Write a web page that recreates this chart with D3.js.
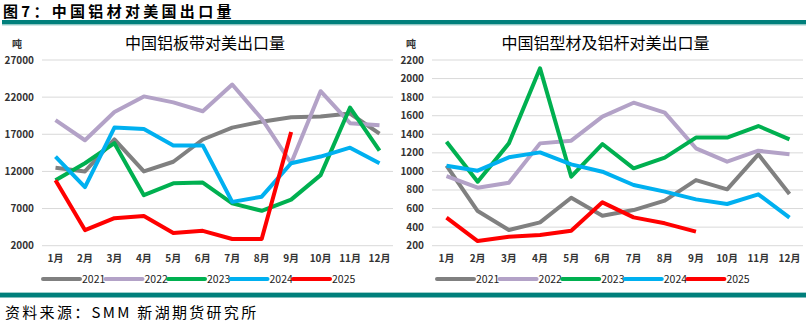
<!DOCTYPE html>
<html>
<head>
<meta charset="utf-8">
<script src="https://cdn.jsdelivr.net/npm/d3@7"></script>
<style>
  html, body { margin: 0; padding: 0; background: #fff; }
  svg { display: block; }
</style>
</head>
<body>
<svg id="chart" width="806" height="324"></svg>
<script>
// Months on the x axis
const months = ['1月', '2月', '3月', '4月', '5月', '6月', '7月', '8月', '9月', '10月', '11月', '12月'];
const years = ['2021', '2022', '2023', '2024', '2025'];
const yearColors = ['#808080', '#b3a2c7', '#00b050', '#00b0f0', '#ff0000'];

// Aluminium sheet & strip exports to US (tonnes)
const sheet2021 = [12500, 12000, 16300, 12000, 13300, 16300, 17900, 18700, 19300, 19400, 19800, 17100];
const sheet2022 = [18900, 16200, 20000, 22100, 21300, 20100, 23700, 19100, 13100, 22800, 18500, 18200];
const sheet2023 = [10800, 13100, 15800, 8800, 10400, 10500, 7700, 6700, 8200, 11500, 20600, 14800];
const sheet2024 = [14000, 9900, 17900, 17700, 15500, 15500, 7900, 8600, 13100, 14000, 15200, 13100];
const sheet2025 = [10800, 4100, 5700, 6000, 3700, 4000, 2900, 2900, 17300];
const sheetTicks = [2000, 7000, 12000, 17000, 22000, 27000];

// Aluminium profiles & rod exports to US (tonnes)
const profile2021 = [1062, 573, 369, 451, 717, 523, 584, 685, 907, 807, 1184, 757];
const profile2022 = [950, 825, 879, 1302, 1331, 1590, 1740, 1633, 1249, 1105, 1223, 1184];
const profile2023 = [1320, 889, 1302, 2110, 943, 1295, 1033, 1148, 1364, 1364, 1489, 1346];
const profile2024 = [1062, 1008, 1152, 1205, 1076, 997, 854, 782, 699, 649, 753, 502];
const profile2025 = [502, 250, 297, 315, 362, 667, 505, 441, 351];
const profileTicks = [200, 400, 600, 800, 1000, 1200, 1400, 1600, 1800, 2000, 2200];

const svg = d3.select('#chart');
const FONT = '"Noto Sans CJK SC", "Noto Sans", sans-serif';

// header title and teal rules
svg.append('text')
  .attr('x', 3).attr('y', 17)
  .attr('font-family', FONT).attr('font-weight', 700)
  .attr('font-size', 15).attr('letter-spacing', 3.3)
  .attr('fill', '#000')
  .text('图7：中国铝材对美国出口量');

svg.append('rect').attr('x', 2).attr('y', 20).attr('width', 804).attr('height', 4.5).attr('fill', '#007f7b');
svg.append('rect').attr('x', 2).attr('y', 24.5).attr('width', 804).attr('height', 1).attr('fill', '#9fcfcc');
svg.append('rect').attr('x', 0).attr('y', 292).attr('width', 806).attr('height', 1).attr('fill', '#9fcfcc');
svg.append('rect').attr('x', 0).attr('y', 293).attr('width', 806).attr('height', 4.5).attr('fill', '#007f7b');

svg.append('text')
  .attr('x', 5).attr('y', 318)
  .attr('font-family', FONT).attr('font-size', 15)
  .attr('letter-spacing', 2.3)
  .attr('fill', '#000')
  .text('资料来源：SMM 新湖期货研究所');

function drawPanel(cfg) {
  const g = svg.append('g');
  const x = d3.scalePoint().domain(months).range([cfg.x0, cfg.x1]);
  const y = d3.scaleLinear().domain(cfg.domain).range([cfg.yBottom, cfg.yTop]);

  // horizontal gridlines
  g.selectAll('.grid')
    .data(cfg.ticks)
    .enter().append('line')
    .attr('x1', cfg.gx0).attr('x2', cfg.gx1)
    .attr('y1', d => y(d)).attr('y2', d => y(d))
    .attr('stroke', '#d9d9d9').attr('stroke-width', 1);

  // y tick labels
  g.selectAll('.ytick')
    .data(cfg.ticks)
    .enter().append('text')
    .attr('x', cfg.gx0 - 8).attr('y', d => y(d) + 3.5)
    .attr('text-anchor', 'end')
    .attr('font-family', FONT).attr('font-size', 10).attr('font-weight', 700)
    .attr('fill', '#333')
    .text(d => d);

  // x tick labels
  g.selectAll('.xtick')
    .data(months)
    .enter().append('text')
    .attr('x', d => x(d)).attr('y', 262)
    .attr('text-anchor', 'middle')
    .attr('font-family', FONT).attr('font-size', 10).attr('font-weight', 700)
    .attr('fill', '#333')
    .text(d => d);

  // unit and panel title
  g.append('text')
    .attr('x', cfg.unitX).attr('y', 48)
    .attr('font-family', FONT).attr('font-size', 10).attr('font-weight', 700)
    .attr('fill', '#333').text('吨');

  g.append('text')
    .attr('x', cfg.titleX).attr('y', 49)
    .attr('text-anchor', 'middle')
    .attr('font-family', FONT).attr('font-size', 16)
    .attr('fill', '#000').text(cfg.title);

  const line = d3.line()
    .x((d, i) => x(months[i]))
    .y(d => y(d))
    .curve(d3.curveLinear);

  cfg.series.forEach((vals, i) => {
    g.append('path')
      .datum(vals)
      .attr('d', line)
      .attr('fill', 'none')
      .attr('stroke', yearColors[i])
      .attr('stroke-width', 4)
      .attr('stroke-linejoin', 'round');
  });

  // legend
  const leg = g.append('g');
  years.forEach((yr, i) => {
    const lx = cfg.legendX + i * cfg.legendStep;
    leg.append('line')
      .attr('x1', lx).attr('x2', lx + 37)
      .attr('y1', 279).attr('y2', 279)
      .attr('stroke', yearColors[i]).attr('stroke-width', 4)
      .attr('stroke-linecap', 'round');
    leg.append('text')
      .attr('x', lx + 39).attr('y', 283)
      .attr('font-family', FONT).attr('font-size', 10.5)
      .attr('fill', '#222').text(yr);
  });
}

drawPanel({
  title: '中国铝板带对美出口量',
  titleX: 205, unitX: 12,
  x0: 55.5, x1: 379.5, gx0: 42, gx1: 393,
  yTop: 60, yBottom: 245.7, domain: [2000, 27000],
  ticks: sheetTicks,
  series: [sheet2021, sheet2022, sheet2023, sheet2024, sheet2025],
  legendX: 43, legendStep: 62.5
});

drawPanel({
  title: '中国铝型材及铝杆对美出口量',
  titleX: 605.5, unitX: 406,
  x0: 446.5, x1: 789.5, gx0: 432, gx1: 803,
  yTop: 60, yBottom: 245.7, domain: [200, 2200],
  ticks: profileTicks,
  series: [profile2021, profile2022, profile2023, profile2024, profile2025],
  legendX: 437, legendStep: 62.6
});
</script>
</body>
</html>
